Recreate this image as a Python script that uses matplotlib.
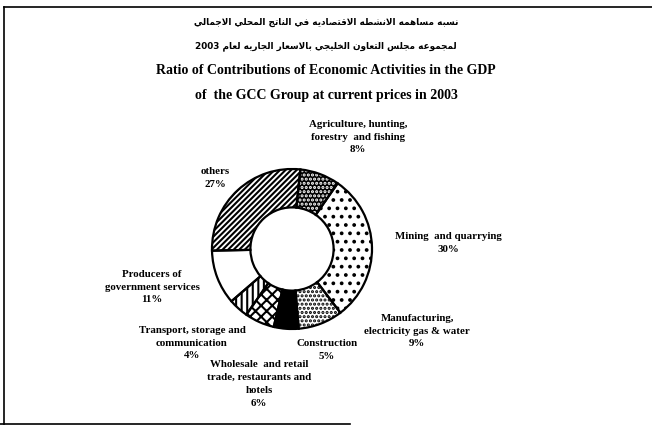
import re
import unicodedata
import matplotlib
matplotlib.use("Agg")
import matplotlib.pyplot as plt
from matplotlib.lines import Line2D

# data (clockwise from the top)
sectors = ["Agriculture, hunting,\nforestry  and fishing",
           "Mining  and quarrying",
           "Manufacturing,\nelectricity gas & water",
           "Construction",
           "Wholesale  and retail\ntrade, restaurants and\nhotels",
           "Transport, storage and\ncommunication",
           "Producers of\ngovernment services",
           "others"]
shares = [8, 30, 9, 5, 6, 4, 11, 27]

title_ar = ["نسبه مساهمه الانشطه الاقتصاديه في الناتج المحلي الاجمالي",
            "لمجموعه مجلس التعاون الخليجي بالاسعار الجاريه لعام 2003"]
title_en = ["Ratio of Contributions of Economic Activities in the GDP",
            "of  the GCC Group at current prices in 2003"]

# fill look per slice: face, hatch colour, hatch
faces = ["black", "white", "white", "black", "white", "white", "white", "white"]
hcols = ["white", "black", "black", "black", "black", "black", "black", "black"]
hatches = ["....", "..", "....", "", "xxx", "|||", "", "//////"]

# label spots in pixels (x centre, y centre from top)
lab_xy = [(358, 137), (448, 243), (417, 331), (327, 350),
          (259, 384), (192, 343), (152, 287), (215, 178)]

W, H = 652, 428


def shape_ar(text):
    # simple arabic joining -> presentation forms, then visual order
    no_left = set("اأإآدذرزوةى")
    isar = lambda c: "\u0621" <= c <= "\u064A"
    out = []
    i = 0
    n = len(text)
    while i < n:
        c = text[i]
        prev = text[i - 1] if i > 0 else ""
        nxt = text[i + 1] if i + 1 < n else ""
        if not isar(c):
            out.append(c)
            i += 1
            continue
        jp = isar(prev) and prev not in no_left
        if c == "ل" and nxt and nxt in "اأإآ":
            form = "FINAL" if jp else "ISOLATED"
            out.append(unicodedata.lookup("ARABIC LIGATURE LAM WITH ALEF " + form + " FORM"))
            i += 2
            continue
        jn = c not in no_left and isar(nxt)
        form = {(1, 1): "MEDIAL", (1, 0): "FINAL", (0, 1): "INITIAL", (0, 0): "ISOLATED"}[(int(jp), int(jn))]
        out.append(unicodedata.lookup(unicodedata.name(c) + " " + form + " FORM"))
        i += 1
    vis = "".join(out)[::-1]
    return re.sub(r"\d+", lambda m: m.group()[::-1], vis)


plt.rcParams["hatch.linewidth"] = 1.5
fig = plt.figure(figsize=(W / 100, H / 100), dpi=100)
fig.patch.set_facecolor("white")

# donut
cx, cy, R = 292, 249, 80
half = 86
ax = fig.add_axes([(cx - half) / W, 1 - (cy + half) / H, 2 * half / W, 2 * half / H])
wedges, _ = ax.pie(shares, startangle=84, counterclock=False, radius=1,
                   wedgeprops=dict(width=0.48, linewidth=0))
for w, fc, hc, h in zip(wedges, faces, hcols, hatches):
    w.set_facecolor(fc)
    w.set_edgecolor(hc)
    w.set_hatch(h)
ax.pie(shares, startangle=84, counterclock=False, radius=1,
       colors=["none"] * len(shares),
       wedgeprops=dict(width=0.48, linewidth=1.6, edgecolor="black"))
ax.set_xlim(-half / R, half / R)
ax.set_ylim(-half / R, half / R)
ax.set_aspect("equal")
ax.axis("off")

# titles
for txt, y in zip(title_ar, [22, 46]):
    fig.text(0.5, 1 - y / H, shape_ar(txt), ha="center", va="center",
             fontsize=6.4, fontweight="bold", family=["DejaVu Sans"])
for txt, y in zip(title_en, [70, 95]):
    fig.text(0.5, 1 - y / H, txt, ha="center", va="center",
             fontsize=10, fontweight="bold", family=["Liberation Serif"])

# slice labels
for name, v, (x, y) in zip(sectors, shares, lab_xy):
    fig.text(x / W, 1 - y / H, f"{name}\n{v}%", ha="center", va="center",
             fontsize=7.8, fontweight="bold", family=["Liberation Serif"],
             linespacing=1.55)

# frame lines
fig.add_artist(Line2D([4 / W, 1], [1 - 7 / H] * 2, color="black", lw=1.2))
fig.add_artist(Line2D([4 / W] * 2, [1 - 7 / H, 1 - 424 / H], color="black", lw=1.2))
fig.add_artist(Line2D([0, 350 / W], [1 - 424 / H] * 2, color="black", lw=1.2))

fig.savefig("out.png", dpi=100, facecolor="white")
